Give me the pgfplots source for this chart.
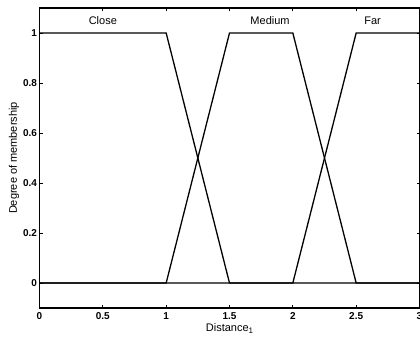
\documentclass[border=0pt]{standalone}
\usepackage{fontspec}
\setmainfont{Liberation Sans}
\usepackage{pgfplots}
\pgfplotsset{compat=1.18}
\begin{document}
\begin{tikzpicture}
\begin{axis}[
  scale only axis, width=380pt, height=300pt,
  xmin=0, xmax=3, ymin=-0.1, ymax=1.1,
  xtick={0,0.5,1,1.5,2,2.5,3},
  ytick={0,0.2,0.4,0.6,0.8,1},
  xticklabels={0,0.5,1,1.5,2,2.5,3},
  yticklabels={0,0.2,0.4,0.6,0.8,1},
  tick align=inside, major tick length=3pt,
  tick style={black, line width=1pt},
  axis line style={line width=1.4pt},
  ticklabel style={font=\fontsize{10}{12}\selectfont\bfseries},
  /pgf/number format/assume math mode=true,
  xticklabel style={yshift=-1pt},
  yticklabel style={xshift=1pt},
  xlabel={Distance\raisebox{-0.35ex}{\fontsize{8}{9}\selectfont 1}},
  ylabel={Degree of membership},
  label style={font=\fontsize{11}{13}\selectfont},
  xlabel style={yshift=3pt},
  ylabel style={yshift=-3pt},
  clip=false,
]
\addplot[black, line width=1.3pt] coordinates {(0,1) (1,1) (1.5,0) (3,0)};
\addplot[black, line width=1.3pt] coordinates {(0,0) (1,0) (1.5,1) (2,1) (2.5,0) (3,0)};
\addplot[black, line width=1.3pt] coordinates {(0,0) (2,0) (2.5,1) (3,1)};
\node[font=\fontsize{11}{13}\selectfont] at (axis cs:0.5,1.05) {Close};
\node[font=\fontsize{11}{13}\selectfont] at (axis cs:1.82,1.05) {Medium};
\node[font=\fontsize{11}{13}\selectfont] at (axis cs:2.63,1.05) {Far};
\coordinate (bl) at (rel axis cs:0,0);
\coordinate (tr) at (rel axis cs:1,1);
\end{axis}
\pgfresetboundingbox
\path ([shift={(-39.5pt,-30pt)}]bl) rectangle ([shift={(0.5pt,8pt)}]tr);
\end{tikzpicture}
\end{document}
